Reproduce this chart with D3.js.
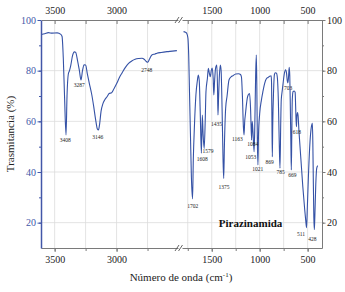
<!DOCTYPE html>
<html><head><meta charset="utf-8">
<script src="https://cdn.jsdelivr.net/npm/d3@7"></script>
<style>
body{margin:0;background:#fff;}
svg text{font-family:'Liberation Serif','Times New Roman','DejaVu Serif',serif !important;}
</style></head>
<body><svg id="c" width="345" height="292"></svg>
<script>
// ---- data ----
const leftWn = [3607,3580,3550,3520,3480,3450,3440,3430,3420,3408,3400,3390,3380,3370,3355,3340,3330,3315,3300,3287,3275,3262,3250,3235,3220,3200,3185,3170,3155,3146,3138,3125,3110,3095,3077,3060,3040,3020,2997,2975,2957,2930,2903,2875,2850,2820,2795,2775,2760,2748,2735,2715,2690,2674,2640,2593,2550,2513];
const leftT  = [94.3,94.6,95.0,94.8,94.9,94.3,93.5,85,70,54.6,70,78.5,80,82,86,87.4,87.2,84,80,76.3,80,82.3,82.2,78.5,75,70.5,66,61,57,56.6,58.5,64,67,68.5,69.7,71,71.3,73,75.1,77.5,79,81.2,82.9,83.9,84.5,84.8,84.9,84.4,83.6,83.3,84.5,86.2,86.6,86.9,87.2,87.5,87.7,87.9];

const rightWn = [1794,1775,1760,1748,1740,1732,1722,1712,1700,1692,1680,1665,1650,1640,1630,1620,1608,1598,1590,1579,1568,1560,1545,1535,1525,1515,1505,1495,1485,1478,1470,1460,1447,1440,1435,1428,1420,1410,1402,1392,1382,1375,1368,1355,1340,1320,1300,1280,1250,1220,1200,1190,1180,1170,1163,1156,1148,1140,1130,1120,1105,1095,1084,1078,1070,1058,1050,1042,1035,1030,1024,1018,1012,1000,982,965,948,930,913,895,880,876,872,868,864,855,846,837,825,815,805,795,788,780,775,765,758,745,730,720,712,706,700,692,686,680,674,670,665,660,652,640,630,625,620,616,612,605,600,590,570,550,530,520,511,503,490,475,462,450,445,440,435,430,425,415,405,395];
const rightT  = [95.4,95.2,94.7,92.8,86,72,55,38,29.4,45,58.5,70.4,76,78.3,76,63.8,47.4,62.5,55,49.3,60,71.7,77,80.9,79,77.6,80,81,77,70.4,76,80.9,82.2,74,62.5,70,78,82.2,80,65,45,37.5,50,65.1,70,76.3,77.5,78,78.7,78.8,78.5,77.5,70,58,54.6,60,63,66,69,70.4,71,65,52.6,60,56,48,60,78,86.2,75,52,42.8,55,63,68.4,72,75,76.8,77.3,77.8,78,75,60,46,58,72,78.5,79.2,79,77,68,50,41.5,60,68.4,72,74.3,78.3,80.3,79,76,75.2,77,81.3,78,65,50,40.8,55,68.4,71.7,72,71.5,66,60,57.9,62,63.5,62.5,56,45,34.2,25,21,18,26,40,52,57.5,59.2,50,35,22,17.2,22,35,41.5,42.5];

const peakLabels = ["3408","3287","3146","2748","1702","1608","1579","1435","1375","1163","1084","1053","1021","869","785","669","703","618","511","428"];
const peakLabelWn = [3414,3301,3152,2756,1699,1600,1538,1450,1373,1233,1072,1093,1020,896,782,658,704,611,569,450];
const peakLabelT  = [52.6,74.3,53.8,80.3,26.6,45.1,48.3,58.9,34.1,53,51,45.9,41.2,43.9,40,38.8,73.2,55.8,15.5,13.5];

const leftTicksMajor = [3500,3000];
const leftTicksAll = [3500,3250,3000,2750];
const rightTicksMajor = [1500,1000,500];
const rightTicksAll = [1750,1500,1250,1000,750,500];
const yTicksMajor = [20,40,60,80,100];
const yTicksAll = [20,30,40,50,60,70,80,90,100];

const chartTitle = "Pirazinamida";
const chartTitleWn = 1095;
const chartTitleT = 20;
const yTitle = "Trasmitancia (%)";

// ---- layout ----
const FONT = "'Liberation Serif','Times New Roman','DejaVu Serif',serif";
const svg = d3.select("#c");
const L = 41, R = 322, T = 20, B = 248;
const breakL = 178.5, breakR = 182;
const xl = d3.scaleLinear().domain([3610, 2500]).range([L, breakL]);
const xr = d3.scaleLinear().domain([1810, 350]).range([breakR, R]);
const y = d3.scaleLinear().domain([10, 100]).range([B, T]);

const lineCol = "#3552a6";
const blue = "#4257a8";
const gridCol = "#dcdcdc";
const axisCol = "#7a7a7a";

// grid
const g = svg.append("g");
g.selectAll(".vl").data(leftTicksAll).join("line")
  .attr("x1", d => xl(d)).attr("x2", d => xl(d)).attr("y1", T).attr("y2", B)
  .attr("stroke", gridCol).attr("stroke-width", 0.8);
g.selectAll(".vr").data(rightTicksAll).join("line")
  .attr("x1", d => xr(d)).attr("x2", d => xr(d)).attr("y1", T).attr("y2", B)
  .attr("stroke", gridCol).attr("stroke-width", 0.8);
g.selectAll(".hl").data(yTicksMajor.filter(v => v < 100)).join("line")
  .attr("x1", L).attr("x2", R).attr("y1", d => y(d)).attr("y2", d => y(d))
  .attr("stroke", gridCol).attr("stroke-width", 0.8);

// spectrum
const line = d3.line().curve(d3.curveMonotoneX);
const leftPts = leftWn.map((w, i) => [xl(w), y(leftT[i])]);
const rightPts = rightWn.map((w, i) => [xr(w), y(rightT[i])]);
svg.append("path").attr("d", line(leftPts)).attr("fill", "none")
  .attr("stroke", lineCol).attr("stroke-width", 1.1);
svg.append("path").attr("d", line(rightPts)).attr("fill", "none")
  .attr("stroke", lineCol).attr("stroke-width", 1.1);

function styleAxis(sel, col) {
  sel.attr("font-family", FONT);
  sel.selectAll("path.domain").attr("stroke", col);
  sel.selectAll(".tick line").attr("stroke", col);
  sel.selectAll("text").style("font-family", FONT).attr("font-size", 10).attr("fill", "#222");
}
[[xl, leftTicksMajor, leftTicksAll], [xr, rightTicksMajor, rightTicksAll]].forEach(([sc, maj, all]) => {
  const tt = svg.append("g").attr("transform", `translate(0,${T})`)
    .call(d3.axisTop(sc).tickValues(all).tickSizeInner(-4).tickSizeOuter(0).tickFormat(""));
  styleAxis(tt, axisCol);
  const tl = svg.append("g").attr("transform", `translate(0,${T})`)
    .call(d3.axisTop(sc).tickValues(maj).tickSize(0).tickPadding(6.5).tickFormat(d3.format("d")));
  tl.select("path.domain").remove();
  styleAxis(tl, axisCol);
  const bt = svg.append("g").attr("transform", `translate(0,${B})`)
    .call(d3.axisBottom(sc).tickValues(all).tickSizeInner(3).tickSizeOuter(0).tickFormat(""));
  styleAxis(bt, axisCol);
  const bl = svg.append("g").attr("transform", `translate(0,${B})`)
    .call(d3.axisBottom(sc).tickValues(maj).tickSize(4).tickPadding(3.5).tickFormat(d3.format("d")));
  bl.select("path.domain").remove();
  styleAxis(bl, axisCol);
});

// left axis (blue)
const ly = svg.append("g").attr("transform", `translate(${L},0)`)
  .call(d3.axisLeft(y).tickValues(yTicksAll).tickSizeInner(2).tickSizeOuter(0).tickFormat(""));
ly.selectAll("path.domain").attr("stroke", blue).attr("stroke-width", 1.5);
ly.selectAll(".tick line").attr("stroke", blue);
const lyl = svg.append("g").attr("transform", `translate(${L},0)`)
  .call(d3.axisLeft(y).tickValues(yTicksMajor).tickSize(3.5).tickPadding(1.5));
lyl.select("path.domain").remove();
lyl.selectAll(".tick line").attr("stroke", blue);
lyl.selectAll("text").style("font-family", FONT).attr("font-size", 10).attr("fill", blue);

// right axis
const ry = svg.append("g").attr("transform", `translate(${R},0)`)
  .call(d3.axisRight(y).tickValues(yTicksAll).tickSizeInner(2).tickSizeOuter(0).tickFormat(""));
ry.selectAll("path.domain").attr("stroke", axisCol);
ry.selectAll(".tick line").attr("stroke", axisCol);
const ryl = svg.append("g").attr("transform", `translate(${R},0)`)
  .call(d3.axisRight(y).tickValues(yTicksMajor).tickSize(3.5).tickPadding(1.5));
ryl.select("path.domain").remove();
ryl.selectAll(".tick line").attr("stroke", axisCol);
ryl.selectAll("text").style("font-family", FONT).attr("font-size", 10).attr("fill", "#222");

// break marks
[T, B].forEach(yy => {
  svg.append("rect").attr("x", breakL).attr("y", yy - 2).attr("width", breakR - breakL).attr("height", 4).attr("fill", "#fff");
  [breakL - 1.5, breakR - 1.5].forEach(bx => {
    svg.append("line").attr("x1", bx - 2).attr("y1", yy + 3).attr("x2", bx + 2).attr("y2", yy - 3)
      .attr("stroke", "#555").attr("stroke-width", 0.9);
  });
});

// peak labels
svg.append("g").selectAll("text").data(peakLabels).join("text")
  .attr("x", (d, i) => peakLabelWn[i] > 2000 ? xl(peakLabelWn[i]) : xr(peakLabelWn[i]))
  .attr("y", (d, i) => y(peakLabelT[i]))
  .attr("dy", "0.35em").attr("text-anchor", "middle").style("font-family", FONT)
  .attr("font-size", 5.5).attr("fill", "#222").text(d => d);

// chart label
svg.append("text").attr("x", xr(chartTitleWn)).attr("y", y(chartTitleT)).attr("dy", "0.35em").style("font-family", FONT)
  .attr("text-anchor", "middle").attr("font-weight", "bold").attr("font-size", 11).attr("fill", "#111")
  .text(chartTitle);

// axis titles
svg.append("text").attr("transform", `translate(10,134) rotate(-90)`).style("font-family", FONT)
  .attr("text-anchor", "middle").attr("dy", "0.35em").attr("font-size", 11).attr("fill", "#222").text(yTitle);
const xt = svg.append("text").attr("x", 181).attr("y", 281).attr("text-anchor", "middle").style("font-family", FONT)
  .attr("font-size", 11).attr("fill", "#222");
xt.append("tspan").text("Número de onda (cm");
xt.append("tspan").attr("dy", -4).attr("font-size", 7).text("-1");
xt.append("tspan").attr("dy", 4).text(")");
</script>
</body></html>
